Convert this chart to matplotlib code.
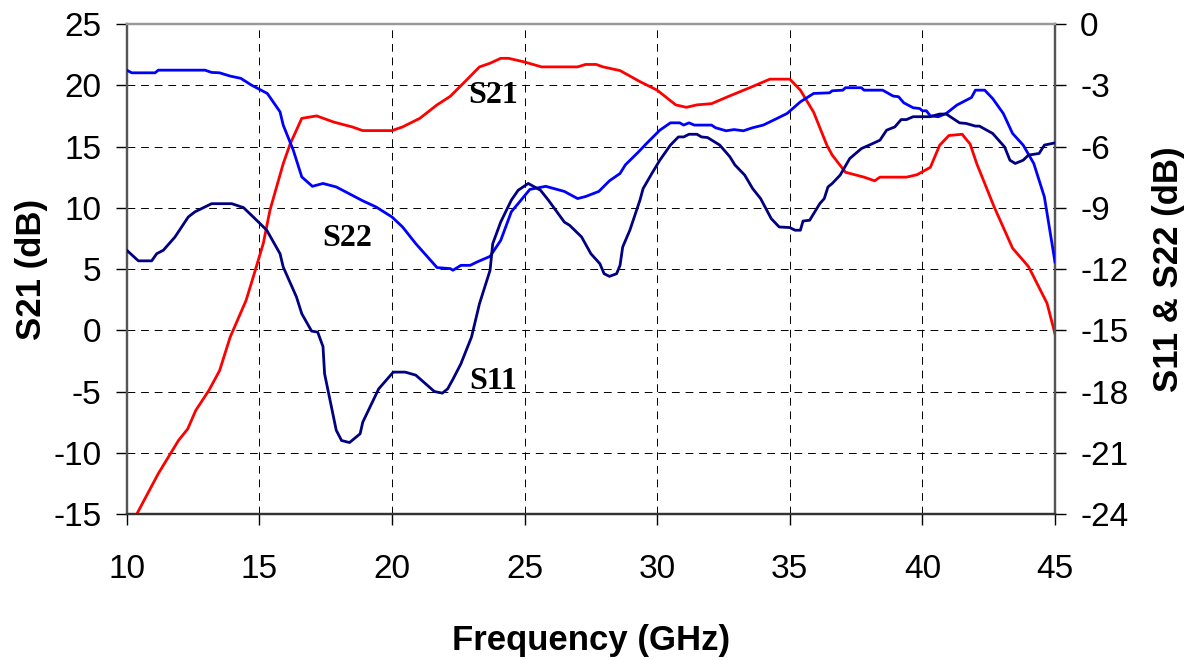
import matplotlib
matplotlib.use("Agg")
import matplotlib.pyplot as plt
import numpy as np

# S21 (left axis, dB)
s21_f = [10.38, 11.19, 11.95, 12.3, 12.6, 13.1, 13.5, 13.9, 14.5, 14.77, 15.15, 15.4,
         15.9, 16.16, 16.6, 17.16, 17.8, 18.5, 18.9, 20.0, 20.4, 21.05, 21.7, 22.2,
         22.8, 23.3, 23.7, 24.1, 24.4, 25.0, 25.64, 27.0, 27.3, 27.7, 27.96, 28.6,
         29.35, 30.0, 30.7, 31.1, 31.5, 32.05, 32.7, 33.6, 34.25, 35.0, 35.4, 35.9,
         36.4, 36.6, 37.1, 37.8, 38.2, 38.4, 39.4, 39.8, 40.3, 40.65, 41.0, 41.5,
         41.8, 42.05, 42.7, 43.05, 43.4, 44.0, 44.2, 44.7, 45.0]
s21_db = [-15.0, -11.7, -9.0, -8.05, -6.55, -4.9, -3.3, -0.56, 2.44, 4.35, 7.1, 9.8,
          13.6, 15.2, 17.3, 17.5, 17.0, 16.6, 16.3, 16.3, 16.6, 17.3, 18.4, 19.1,
          20.4, 21.5, 21.8, 22.2, 22.2, 21.9, 21.5, 21.5, 21.7, 21.7, 21.5, 21.2,
          20.3, 19.6, 18.4, 18.2, 18.4, 18.5, 19.1, 19.9, 20.5, 20.5, 19.6, 17.8,
          15.1, 14.3, 12.9, 12.5, 12.2, 12.5, 12.5, 12.7, 13.3, 15.1, 15.9, 16.0,
          15.2, 13.6, 10.1, 8.4, 6.7, 5.2, 4.35, 2.2, -0.3]

# S22 (right axis, dB)
s22_f = [10.0, 10.19, 11.07, 11.19, 12.95, 13.2, 13.5, 13.9, 14.3, 14.7, 15.3, 15.78,
         15.9, 16.28, 16.6, 17.0, 17.4, 17.9, 18.9, 19.4, 20.0, 20.4, 20.9, 21.7,
         22.2, 22.3, 22.6, 22.95, 23.2, 23.7, 24.1, 24.5, 25.2, 25.8, 26.5, 27.0,
         27.3, 27.8, 28.2, 28.6, 28.8, 29.3, 29.6, 30.1, 30.5, 30.85, 31.0, 31.2,
         31.4, 32.05, 32.2, 32.6, 32.9, 33.25, 33.6, 34.0, 34.4, 34.9, 35.4, 35.9,
         36.5, 36.6, 37.0, 37.1, 37.7, 37.8, 38.5, 38.9, 39.1, 39.3, 39.65, 39.9,
         40.0, 40.15, 40.3, 40.6, 40.9, 41.3, 41.85, 42.0, 42.35, 42.65, 43.05, 43.4,
         43.8, 44.2, 44.6, 45.0]
s22_db = [-2.26, -2.39, -2.39, -2.26, -2.26, -2.37, -2.39, -2.55, -2.66, -2.99, -3.4, -4.3,
          -4.95, -6.18, -7.49, -7.95, -7.81, -7.98, -8.66, -8.96, -9.45, -9.94, -10.76, -11.93,
          -11.98, -12.06, -11.82, -11.82, -11.66, -11.38, -10.6, -9.2, -8.1, -7.95, -8.2, -8.55,
          -8.45, -8.2, -7.68, -7.32, -6.9, -6.26, -5.85, -5.2, -4.84, -4.84, -4.95, -4.84,
          -4.95, -4.95, -5.08, -5.23, -5.17, -5.23, -5.08, -4.95, -4.7, -4.38, -3.81, -3.4,
          -3.37, -3.27, -3.24, -3.12, -3.12, -3.24, -3.24, -3.53, -3.56, -3.86, -4.1, -4.14,
          -4.25, -4.25, -4.5, -4.54, -4.38, -3.97, -3.6, -3.24, -3.24, -3.65, -4.38, -5.36,
          -5.93, -6.83, -8.47, -11.66]

# S11 (right axis, dB)
s11_f = [10.0, 10.44, 10.94, 11.13, 11.38, 11.82, 12.32, 12.57, 13.2, 13.96, 14.4, 14.77,
         15.28, 15.78, 15.9, 16.4, 16.6, 16.97, 17.2, 17.4, 17.46, 17.9, 18.1, 18.4,
         18.8, 18.9, 19.5, 20.05, 20.5, 20.9, 21.25, 21.6, 21.9, 22.1, 22.3, 22.6,
         23.0, 23.3, 23.7, 23.8, 24.1, 24.5, 24.76, 25.14, 25.6, 25.9, 26.5, 26.7,
         27.15, 27.5, 27.84, 28.0, 28.2, 28.47, 28.6, 28.7, 28.97, 29.35, 29.47, 29.8,
         30.1, 30.5, 30.8, 31.0, 31.2, 31.5, 31.67, 31.9, 32.36, 32.74, 32.93, 33.3,
         33.6, 33.9, 34.3, 34.6, 35.0, 35.2, 35.4, 35.5, 35.75, 36.13, 36.3, 36.44,
         36.6, 36.9, 37.26, 37.7, 38.0, 38.4, 38.65, 38.96, 39.2, 39.4, 39.65, 40.28,
         40.65, 40.9, 41.4, 41.65, 42.0, 42.15, 42.65, 43.1, 43.3, 43.5, 43.8, 44.0,
         44.4, 44.6, 45.0]
s11_db = [-11.08, -11.6, -11.6, -11.25, -11.08, -10.43, -9.45, -9.2, -8.8, -8.8, -8.99, -9.45,
          -10.1, -11.25, -11.9, -13.37, -14.19, -15.04, -15.09, -15.8, -17.13, -19.9, -20.4, -20.5,
          -20.07, -19.5, -17.87, -17.05, -17.05, -17.2, -17.6, -18.0, -18.08, -17.87, -17.4, -16.64,
          -15.33, -13.7, -12.06, -10.76, -9.7, -8.63, -8.14, -7.81, -8.14, -8.63, -9.7, -9.86,
          -10.43, -11.25, -11.74, -12.23, -12.36, -12.23, -11.82, -10.92, -10.1, -8.63, -8.06, -7.32,
          -6.67, -5.93, -5.53, -5.53, -5.4, -5.4, -5.53, -5.56, -5.93, -6.5, -6.9, -7.4,
          -8.06, -8.55, -9.53, -9.94, -9.97, -10.1, -10.1, -9.65, -9.61, -8.8, -8.55, -7.98,
          -7.81, -7.4, -6.59, -6.1, -5.93, -5.69, -5.2, -5.04, -4.68, -4.68, -4.54, -4.54,
          -4.41, -4.41, -4.84, -4.87, -5.0, -5.0, -5.36, -6.02, -6.67, -6.83, -6.67, -6.42,
          -6.34, -5.93, -5.82]

x_ticks = [10, 15, 20, 25, 30, 35, 40, 45]
left_ticks = [-15, -10, -5, 0, 5, 10, 15, 20, 25]
right_ticks = [-24, -21, -18, -15, -12, -9, -6, -3, 0]

plt.rcParams['font.family'] = ['Liberation Sans', 'DejaVu Sans']
plt.rcParams['axes.unicode_minus'] = False

fig = plt.figure(figsize=(11.99, 6.6), dpi=100)
ax = fig.add_axes([0.1057, 0.2212, 0.7742, 0.7424])
ax2 = ax.twinx()

ax.plot(s21_f, s21_db, color='#ff0000', lw=2.0, zorder=3)
ax2.plot(s22_f, s22_db, color='#0000ff', lw=2.0, zorder=3)
ax2.plot(s11_f, s11_db, color='#000080', lw=2.0, zorder=3)

ax.set_xlim(10, 45)
ax.set_ylim(-15, 25)
ax2.set_ylim(-24, 0)
ax.set_xticks(x_ticks)
ax.set_yticks(left_ticks)
ax2.set_yticks(right_ticks)

ax.grid(True, color='black', linestyle=(0, (8, 6)), lw=0.7)

ax.tick_params(axis='both', labelsize=24, length=8, width=1, direction='out')
ax.tick_params(axis='y', pad=10)
ax.tick_params(axis='x', pad=21)
ax2.tick_params(axis='y', labelsize=24, length=8, width=1, direction='out', pad=10)

for a in (ax, ax2):
    a.spines['left'].set_color('#555555')
    a.spines['right'].set_color('#555555')
    a.spines['top'].set_color('#999999')
    a.spines['bottom'].set_color('#333333')
    for s in a.spines.values():
        s.set_linewidth(1.6)

ax.set_xlabel('Frequency (GHz)', fontsize=25, fontweight='bold', labelpad=28)
ax.set_ylabel('S21 (dB)', fontsize=25, fontweight='bold', labelpad=4)
ax2.set_ylabel('S11 & S22 (dB)', fontsize=25, fontweight='bold', labelpad=17)

lbl = dict(fontsize=23, fontweight='bold', family='Liberation Serif', ha='center', va='center')
ax.text(23.8, 19.2, 'S21', **lbl)
ax.text(18.3, 7.5, 'S22', **lbl)
ax.text(23.8, -4.2, 'S11', **lbl)

fig.savefig('out.png', dpi=100)
